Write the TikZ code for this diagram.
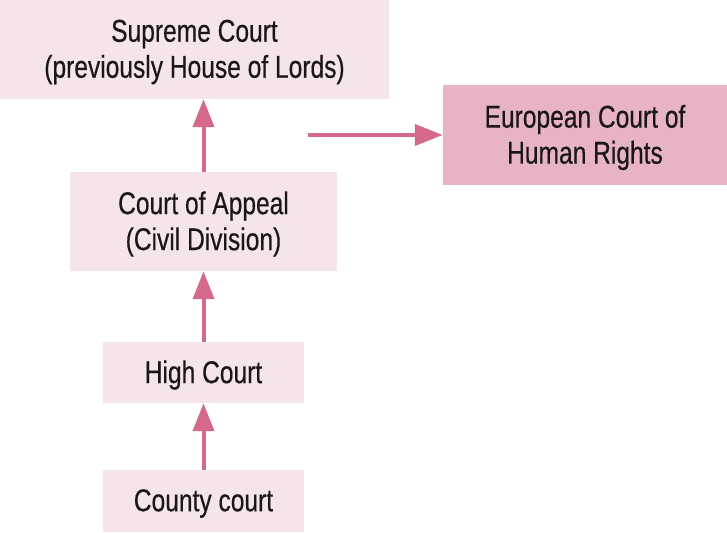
\documentclass[tikz,border=0pt]{standalone}
\usepackage{fontspec}
\setmainfont[FakeStretch=0.78,FakeBold=0.4]{Liberation Sans}
\usetikzlibrary{arrows.meta}
\definecolor{lightbox}{HTML}{F6E4EB}
\definecolor{darkbox}{HTML}{E8B3C3}
\definecolor{arrowc}{HTML}{D5698A}
\definecolor{textc}{HTML}{1A1718}
\begin{document}
\begin{tikzpicture}[x=1pt,y=-1pt,
  courtbox/.style={rectangle, draw=none, fill=lightbox, inner sep=0pt},
  courttext/.style={inner sep=0pt, align=center, text=textc, font=\fontsize{31.5}{36}\selectfont},
  arr/.style={draw=arrowc, line width=4pt, -{Triangle[length=28pt,width=21pt]}}]
\useasboundingbox (0,0) rectangle (727,532);
\node[courtbox, minimum width=389pt, minimum height=99pt] (sup) at (194.5,49.5) {};
\node[courtbox, fill=darkbox, minimum width=284pt, minimum height=100pt] (euro) at (585,135) {};
\node[courtbox, minimum width=267pt, minimum height=99pt] (coa) at (203.5,221.5) {};
\node[courtbox, minimum width=201pt, minimum height=61pt] (high) at (203.5,372.5) {};
\node[courtbox, minimum width=201pt, minimum height=62pt] (county) at (203.5,501) {};
\node[courttext] (suptext) at ([yshift=-2.5pt]sup.center) {Supreme Court\\(previously House of Lords)};
\node[courttext] (eurotext) at ([yshift=-2.5pt]euro.center) {European Court of\\Human Rights};
\node[courttext] (coatext) at ([yshift=-2.5pt]coa.center) {Court of Appeal\\(Civil Division)};
\node[courttext] (hightext) at ([yshift=-2.5pt]high.center) {High Court};
\node[courttext] (countytext) at ([yshift=-2.5pt]county.center) {County court};
\coordinate (hstart) at (308,135);
\draw[arr] (coa.north) -- (coa.north |- sup.south);
\draw[arr] (hstart) -- (euro.west);
\draw[arr] (high.north) -- (coa.south);
\draw[arr] (county.north) -- (high.south);
\end{tikzpicture}
\end{document}
